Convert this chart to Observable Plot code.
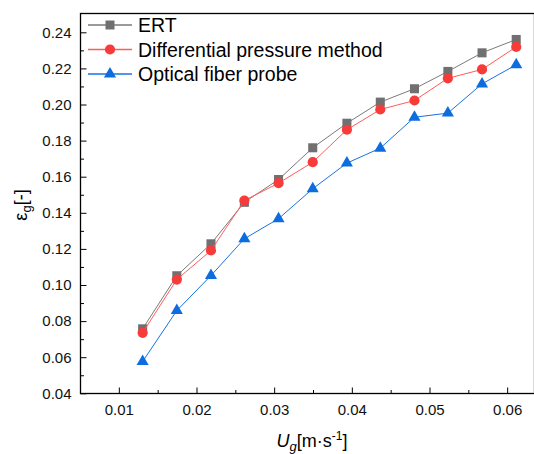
<!DOCTYPE html>
<html>
<head>
<meta charset="utf-8">
<script src="https://cdn.jsdelivr.net/npm/d3@7"></script>
<script src="https://cdn.jsdelivr.net/npm/@observablehq/plot@0.6"></script>
<style>
  html, body { margin: 0; padding: 0; background: white; }
  #chart { width: 534px; height: 454px; overflow: hidden; }
</style>
</head>
<body>
<div id="chart"></div>
<script>
// ---- data ----
const ug = [0.0130, 0.0174, 0.0218, 0.0261, 0.0305, 0.0349, 0.0393, 0.0436, 0.0480, 0.0523, 0.0567, 0.0611];
const ertValues = [0.0760, 0.1054, 0.1231, 0.1461, 0.1587, 0.1763, 0.1899, 0.2016, 0.2090, 0.2186, 0.2289, 0.2363];
const dpValues  = [0.0738, 0.1033, 0.1194, 0.1471, 0.1567, 0.1683, 0.1863, 0.1975, 0.2025, 0.2148, 0.2197, 0.2322];
const ofpValues = [0.0579, 0.0861, 0.1055, 0.1259, 0.1370, 0.1536, 0.1678, 0.1761, 0.1932, 0.1955, 0.2117, 0.2223];
const seriesNames = ["ERT", "Differential pressure method", "Optical fiber probe"];
const xMajor = [0.01, 0.02, 0.03, 0.04, 0.05, 0.06];
const xMinor = [0.005, 0.015, 0.025, 0.035, 0.045, 0.055, 0.065];
const yMajor = [0.04, 0.06, 0.08, 0.10, 0.12, 0.14, 0.16, 0.18, 0.20, 0.22, 0.24];
const yMinor = [0.05, 0.07, 0.09, 0.11, 0.13, 0.15, 0.17, 0.19, 0.21, 0.23];

const styles = [
  {line: "#7a7a7a", fill: "#707070", symbol: "square", r: 5.1, d3sym: d3.symbolSquare, size: 81},
  {line: "#ff5c5c", fill: "#f73b3b", symbol: "circle", r: 5.1, d3sym: d3.symbolCircle, size: 82},
  {line: "#1a72e0", fill: "#0d6ddf", symbol: "triangle", r: 4.5, d3sym: d3.symbolTriangle, size: 64}
];

const allSeries = [ertValues, dpValues, ofpValues];
const rows = allSeries.map((vals, i) => vals.map((v, j) => ({u: ug[j], eps: v, series: seriesNames[i]})));

const tickH = len => ({draw(ctx) { ctx.moveTo(0, 0); ctx.lineTo(len, 0); }});
const tickV = len => ({draw(ctx) { ctx.moveTo(0, 0); ctx.lineTo(0, -len); }});

const marks = [];
rows.forEach((data, i) => {
  marks.push(Plot.line(data, {x: "u", y: "eps", stroke: styles[i].line, strokeWidth: 1}));
  marks.push(Plot.dot(data, {x: "u", y: "eps", symbol: styles[i].symbol, r: styles[i].r, fill: styles[i].fill, stroke: "none"}));
});

const plot = Plot.plot({
  width: 534,
  height: 454,
  marginLeft: 80,
  marginRight: 0,
  marginTop: 13,
  marginBottom: 61,
  style: {fontFamily: "'Liberation Sans', Arial, sans-serif", fontSize: "15px", background: "white", color: "#111"},
  x: {domain: [0.005, 0.065], range: [80, 546], label: null},
  y: {domain: [0.04, 0.24], range: [393.3, 32.3], label: null},
  marks: [
    ...marks,
    Plot.frame({stroke: "black", strokeWidth: 1.3}),
    Plot.dot(yMajor, {y: d => d, frameAnchor: "left", symbol: tickH(6), stroke: "black", fill: "none", strokeWidth: 1}),
    Plot.dot(yMinor, {y: d => d, frameAnchor: "left", symbol: tickH(3.5), stroke: "black", fill: "none", strokeWidth: 1}),
    Plot.dot(xMajor, {x: d => d, frameAnchor: "bottom", symbol: tickV(6), stroke: "black", fill: "none", strokeWidth: 1}),
    Plot.dot(xMinor, {x: d => d, frameAnchor: "bottom", symbol: tickV(3.5), stroke: "black", fill: "none", strokeWidth: 1}),
    Plot.axisY({ticks: yMajor, tickSize: 0, tickPadding: 9, tickFormat: d3.format(".2f"), fontSize: 15, label: null}),
    Plot.axisX({ticks: xMajor, tickSize: 0, tickPadding: 11, tickFormat: d3.format(".2f"), fontSize: 15, label: null})
  ]
});

document.getElementById("chart").appendChild(plot);

const svg = d3.select(plot);
const font = "'Liberation Sans', Arial, sans-serif";

// x-axis title: U_g[m·s^-1]
const xt = svg.append("text").attr("x", 312).attr("y", 447).attr("text-anchor", "middle")
  .style("font-family", font).style("font-size", "18px").attr("fill", "black");
xt.append("tspan").style("font-style", "italic").text("U");
xt.append("tspan").style("font-style", "italic").style("font-size", "13px").attr("dy", 4).text("g");
xt.append("tspan").attr("dy", -4).text("[m·s");
xt.append("tspan").style("font-size", "12px").attr("dy", -7).text("-1");
xt.append("tspan").attr("dy", 7).text("]");

// y-axis title: ε_g[-]
const yt = svg.append("text").attr("transform", "translate(27,205) rotate(-90)").attr("text-anchor", "middle")
  .style("font-family", font).style("font-size", "18px").attr("fill", "black");
yt.append("tspan").text("ε");
yt.append("tspan").style("font-size", "13px").attr("dy", 4).text("g");
yt.append("tspan").attr("dy", -4).text("[-]");

// legend
const lg = svg.append("g").attr("text-anchor", "start");
seriesNames.forEach((name, i) => {
  const cy = 25 + i * 24.5;
  lg.append("line").attr("x1", 88).attr("x2", 132).attr("y1", cy).attr("y2", cy)
    .attr("stroke", styles[i].line).attr("stroke-width", 1.3);
  lg.append("path").attr("d", d3.symbol().type(styles[i].d3sym).size(styles[i].size)())
    .attr("transform", `translate(110,${cy})`).attr("fill", styles[i].fill);
  lg.append("text").attr("x", 138).attr("y", cy).attr("dy", "0.36em").attr("text-anchor", "start")
    .style("font-family", font).style("font-size", "19.5px").attr("fill", "black").text(name);
});
</script>
</body>
</html>
